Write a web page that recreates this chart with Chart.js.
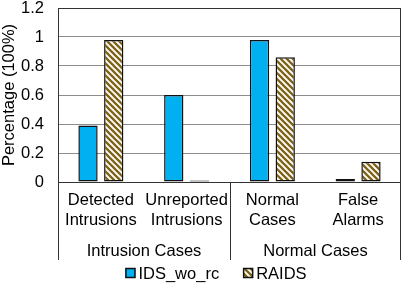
<!DOCTYPE html>
<html>
<head>
<meta charset="utf-8">
<script src="https://cdn.jsdelivr.net/npm/chart.js@4.4.0/dist/chart.umd.min.js"></script>
<style>
  html, body { margin: 0; padding: 0; background: #fff; }
  #wrap { width: 403px; height: 288px; }
</style>
</head>
<body>
<div id="wrap"><canvas id="chart" width="403" height="288"></canvas></div>
<script>
(function () {
  'use strict';

  // --- Data ---
  var categories = [['Detected', 'Intrusions'], ['Unreported', 'Intrusions'], ['Normal', 'Cases'], ['False', 'Alarms']];
  var groupLabels = ['Intrusion Cases', 'Normal Cases'];
  var groupSizes = [2, 2];
  var idsWoRc = [0.39, 0.6, 0.98, 0.02];
  var raids = [0.98, 0.01, 0.86, 0.14];
  var yTicks = [0, 0.2, 0.4, 0.6, 0.8, 1, 1.2];

  var FONT = "'Liberation Sans', Arial, sans-serif";
  var FONT_SIZE = 16.5;
  var BLUE = '#00b0f0';
  var BROWN = '#7f6316';

  // diagonal "\" hatch
  function stripes() {
    var n = 6;
    var c = document.createElement('canvas');
    c.width = n; c.height = n;
    var g = c.getContext('2d');
    g.fillStyle = '#fff';
    g.fillRect(0, 0, n, n);
    g.strokeStyle = BROWN;
    g.lineWidth = 2.3;
    g.beginPath();
    g.moveTo(-1, -1); g.lineTo(n + 1, n + 1);
    g.moveTo(-1, n - 1); g.lineTo(1, n + 1);
    g.moveTo(n - 1, -1); g.lineTo(n + 1, 1);
    g.stroke();
    return g.createPattern(c, 'repeat');
  }
  var raidsFill = stripes();

  // --- Plugin: frame, group labels, legend ---
  var decor = {
    id: 'decor',
    afterDraw: function (chart) {
      var ctx = chart.ctx;
      var a = chart.chartArea;
      var xs = chart.scales.x;
      var lineBottom = a.bottom + 78;
      ctx.save();
      ctx.strokeStyle = '#333';
      ctx.lineWidth = 1;
      // frame
      ctx.beginPath();
      ctx.moveTo(a.left + 0.5, a.top + 0.5);
      ctx.lineTo(a.right - 0.5, a.top + 0.5);
      ctx.moveTo(a.left, a.bottom + 0.5);
      ctx.lineTo(a.right, a.bottom + 0.5);
      ctx.moveTo(a.left + 0.5, a.top);
      ctx.lineTo(a.left + 0.5, lineBottom);
      ctx.moveTo(a.right - 0.5, a.top);
      ctx.lineTo(a.right - 0.5, lineBottom);
      ctx.stroke();

      // group separators and labels
      ctx.fillStyle = '#000';
      ctx.font = FONT_SIZE + 'px ' + FONT;
      ctx.textAlign = 'center';
      ctx.textBaseline = 'middle';
      var idx = 0;
      var left = a.left;
      groupLabels.forEach(function (lbl, i) {
        idx += groupSizes[i];
        var right = idx < categories.length
          ? Math.round((xs.getPixelForValue(idx - 1) + xs.getPixelForValue(idx)) / 2)
          : a.right;
        if (idx < categories.length) {
          ctx.beginPath();
          ctx.moveTo(right + 0.5, a.bottom);
          ctx.lineTo(right + 0.5, lineBottom);
          ctx.stroke();
        }
        ctx.fillText(lbl, (left + right) / 2, a.bottom + 69);
        left = right;
      });

      // legend
      var items = chart.data.datasets;
      var box = 10, gapText = 3, gapItem = 24;
      var widths = items.map(function (d) { return ctx.measureText(d.label).width; });
      var total = 0;
      widths.forEach(function (w, i) { total += box + gapText + w + (i < widths.length - 1 ? gapItem : 0); });
      var x = 216 - total / 2;
      var y = 273;
      ctx.textAlign = 'left';
      items.forEach(function (d, i) {
        ctx.fillStyle = d.backgroundColor;
        ctx.fillRect(x, y - box / 2, box, box);
        ctx.strokeStyle = '#111';
        ctx.lineWidth = 1.5;
        ctx.strokeRect(x + 0.5, y - box / 2 + 0.5, box - 1, box - 1);
        ctx.fillStyle = '#000';
        ctx.fillText(d.label, x + box + gapText, y + 1);
        x += box + gapText + widths[i] + gapItem;
      });
      ctx.restore();
    }
  };

  new Chart(document.getElementById('chart').getContext('2d'), {
    type: 'bar',
    data: {
      labels: categories,
      datasets: [
        { label: 'IDS_wo_rc', data: idsWoRc, backgroundColor: BLUE },
        { label: 'RAIDS', data: raids, backgroundColor: raidsFill }
      ]
    },
    options: {
      responsive: false,
      animation: false,
      devicePixelRatio: 1,
      layout: { autoPadding: false, padding: { top: 8, right: 2, bottom: 0, left: 0 } },
      datasets: {
        bar: {
          borderColor: '#111',
          borderWidth: 1.5,
          borderSkipped: false,
          categoryPercentage: 0.6,
          barPercentage: 0.75
        }
      },
      plugins: {
        legend: { display: false },
        tooltip: { enabled: false }
      },
      scales: {
        x: {
          grid: { display: false, drawTicks: false },
          border: { display: false },
          ticks: {
            color: '#000',
            padding: 9,
            maxRotation: 0,
            autoSkip: false,
            font: { family: FONT, size: FONT_SIZE, lineHeight: 1.2 }
          },
          afterFit: function (s) {
            s.height = 106;
            s.paddingLeft = 0; s.paddingRight = 0;
          }
        },
        y: {
          min: 0,
          max: 1.2,
          afterBuildTicks: function (s) { s.ticks = yTicks.map(function (v) { return { value: v }; }); },
          grid: { color: '#8c8c8c', drawTicks: false },
          border: { display: false },
          ticks: {
            color: '#000',
            padding: 14,
            font: { family: FONT, size: FONT_SIZE },
            callback: function (v) { return String(v); }
          },
          title: {
            display: true,
            text: 'Percentage (100%)',
            color: '#000',
            padding: { top: 0, bottom: 0 },
            font: { family: FONT, size: FONT_SIZE }
          },
          afterFit: function (s) {
            s.width = 58;
            s.paddingTop = 0; s.paddingBottom = 0;
          }
        }
      }
    },
    plugins: [decor]
  });
})();
</script>
</body>
</html>
